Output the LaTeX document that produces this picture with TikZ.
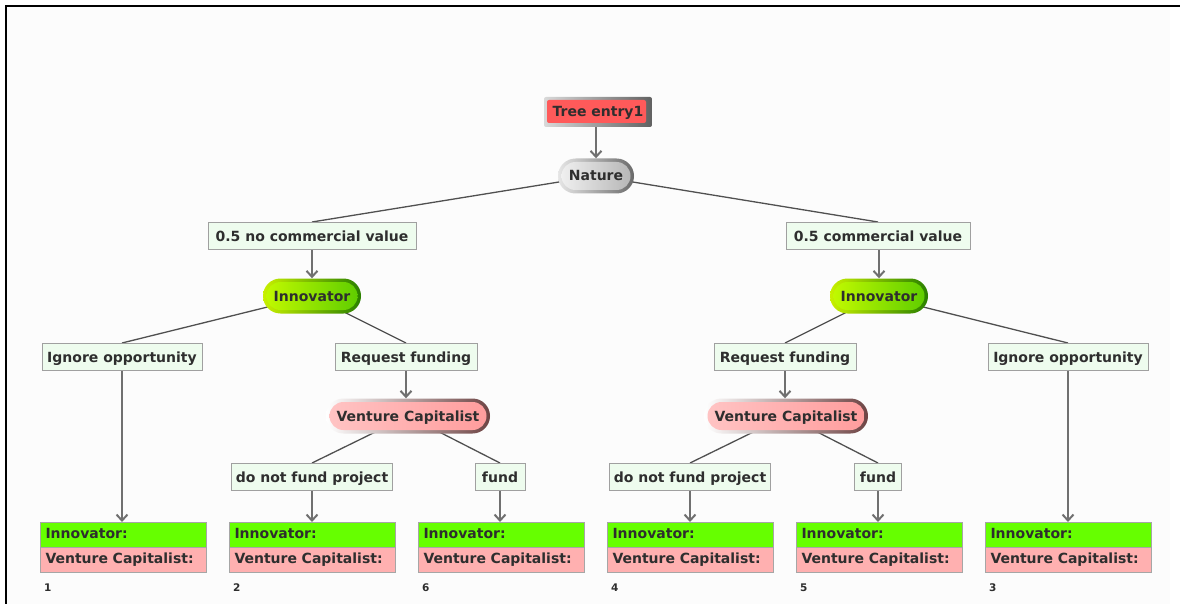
\documentclass[tikz,border=0pt]{standalone}
\usepackage{fontspec}
\setmainfont{DejaVu Sans}
\usetikzlibrary{arrows.meta,shapes.misc,shapes.multipart,calc}
\pgfdeclarelayer{bottom}
\pgfdeclarelayer{background}
\pgfsetlayers{bottom,background,main}
\definecolor{txt}{HTML}{2E2E2E}
\definecolor{lblfill}{HTML}{EEFCEE}
\definecolor{lblborder}{HTML}{A0A0A0}
\definecolor{paygreen}{HTML}{66FF00}
\definecolor{paypink}{HTML}{FFB0B0}
\definecolor{arrgray}{HTML}{707070}
\definecolor{linegray}{HTML}{505050}
\definecolor{bgcol}{HTML}{FCFCFC}
\definecolor{entryred}{HTML}{FF5A5A}
\definecolor{grnA}{HTML}{C8F000}
\definecolor{grnB}{HTML}{2A8000}
\definecolor{grnC}{HTML}{C4FA00}
\definecolor{grnD}{HTML}{5CCC00}
\definecolor{vcA}{HTML}{FFFFFF}
\definecolor{vcB}{HTML}{6E4444}
\definecolor{vcC}{HTML}{FFC4C4}
\definecolor{vcD}{HTML}{FF9C9C}
\definecolor{gyA}{HTML}{E6E6E6}
\definecolor{gyB}{HTML}{6A6A6A}
\definecolor{gyC}{HTML}{F2F2F2}
\definecolor{gyD}{HTML}{B4B4B4}
\newcommand\lblfont{\fontsize{14}{16}\selectfont\bfseries}
\newcommand\numfont{\fontsize{10.5}{11}\selectfont\bfseries}
\begin{document}
\begin{tikzpicture}[x=1pt,y=-1pt,
  every node/.style={text=txt,font=\lblfont},
  lbl/.style={rectangle,draw=lblborder,fill=lblfill,line width=1pt,minimum height=27pt,inner sep=0pt,text height=12pt,text depth=2pt},
  pill/.style n args={4}{rounded rectangle,minimum height=35pt,inner sep=0pt,text height=12pt,text depth=2pt,left color=#1,right color=#2,
     path picture={\shade[left color=#3,right color=#4,rounded corners=14pt]
       ($(path picture bounding box.north west)+(3.5pt,-3.5pt)$) rectangle ($(path picture bounding box.south east)+(-3.5pt,3.5pt)$);}},
  entry/.style={rectangle,rounded corners=2pt,minimum width=108pt,minimum height=30pt,inner sep=0pt,text height=12pt,text depth=2pt,
     left color=black!15,right color=black!62,
     path picture={\fill[entryred] ($(path picture bounding box.north west)+(3pt,-3pt)$) rectangle ($(path picture bounding box.south east)+(-6pt,4pt)$);}},
  pay/.style={rectangle split,rectangle split parts=2,draw=black!35,line width=1pt,
     rectangle split part fill={paygreen,paypink},text width=156pt,align=left,inner xsep=5pt,inner ysep=4pt},
  num/.style={font=\numfont,anchor=west,inner sep=0pt},
  arr/.style={draw=arrgray,line width=2pt,-{Straight Barb[length=6pt,width=11pt,line width=2pt]}},
  conn/.style={draw=linegray,line width=1.3pt}]
\useasboundingbox (0,0) rectangle (1180,604);
\begin{pgfonlayer}{bottom}
\fill[bgcol] (7,7) rectangle (1170,604);
\draw[line width=2pt] (6,604) -- (6,6) -- (1180,6);
\end{pgfonlayer}

% nodes
\node[entry] (te) at (598,112) {Tree entry1};
\node[pill={gyA}{gyB}{gyC}{gyD},minimum width=76pt] (nat) at (596,176) {Nature};

\node[lbl,minimum width=208pt] (l1) at (312,236) {0.5 no commercial value};
\node[lbl,minimum width=184pt] (r1) at (878,236) {0.5 commercial value};

\node[pill={grnA}{grnB}{grnC}{grnD},minimum width=98pt] (i1) at (312,296) {Innovator};
\node[pill={grnA}{grnB}{grnC}{grnD},minimum width=98pt] (i2) at (879,296) {Innovator};

\node[lbl,minimum width=160pt] (io1) at (122,357) {Ignore opportunity};
\node[lbl,minimum width=142pt] (rf1) at (406,357) {Request funding};
\node[lbl,minimum width=142pt] (rf2) at (785,357) {Request funding};
\node[lbl,minimum width=160pt] (io2) at (1068,357) {Ignore opportunity};

\node[pill={vcA}{vcB}{vcC}{vcD},minimum width=164pt] (vc1) at (408,416) {Venture Capitalist};
\node[pill={vcA}{vcB}{vcC}{vcD},minimum width=164pt] (vc2) at (786,416) {Venture Capitalist};

\node[lbl,minimum width=161pt] (dn1) at (312,477) {do not fund project};
\node[lbl,minimum width=50pt] (f1) at (500,477) {fund};
\node[lbl,minimum width=161pt] (dn2) at (690,477) {do not fund project};
\node[lbl,minimum width=47pt] (f2) at (878,477) {fund};

\node[pay] (p1) at (123.5,547.5) {\strut Innovator:\nodepart{two}\strut Venture Capitalist:};
\node[pay] (p2) at (312.5,547.5) {\strut Innovator:\nodepart{two}\strut Venture Capitalist:};
\node[pay] (p6) at (501.5,547.5) {\strut Innovator:\nodepart{two}\strut Venture Capitalist:};
\node[pay] (p4) at (690.5,547.5) {\strut Innovator:\nodepart{two}\strut Venture Capitalist:};
\node[pay] (p5) at (879.5,547.5) {\strut Innovator:\nodepart{two}\strut Venture Capitalist:};
\node[pay] (p3) at (1068.5,547.5) {\strut Innovator:\nodepart{two}\strut Venture Capitalist:};

\node[num] (n1) at (44,588) {1};
\node[num] (n2) at (233,588) {2};
\node[num] (n6) at (422,588) {6};
\node[num] (n4) at (611,588) {4};
\node[num] (n5) at (800,588) {5};
\node[num] (n3) at (989,588) {3};

% connectors
\begin{pgfonlayer}{background}
\draw[conn] (nat.center) -- (l1.north);
\draw[conn] (nat.center) -- (r1.north);
\draw[conn] (i1.center) -- (io1.north);
\draw[conn] (i1.center) -- (rf1.north);
\draw[conn] (i2.center) -- (rf2.north);
\draw[conn] (i2.center) -- (io2.north);
\draw[conn] (vc1.center) -- (dn1.north);
\draw[conn] (vc1.center) -- (f1.north);
\draw[conn] (vc2.center) -- (dn2.north);
\draw[conn] (vc2.center) -- (f2.north);
\end{pgfonlayer}

\draw[arr] (te.south -| nat.north) -- (nat.north);
\draw[arr] (l1.south) -- (i1.north -| l1.south);
\draw[arr] (r1.south -| i2.north) -- (i2.north);
\draw[arr] (io1.south) -- (p1.north -| io1.south);
\draw[arr] (rf1.south) -- (vc1.north -| rf1.south);
\draw[arr] (rf2.south) -- (vc2.north -| rf2.south);
\draw[arr] (io2.south) -- (p3.north -| io2.south);
\draw[arr] (dn1.south) -- (p2.north -| dn1.south);
\draw[arr] (f1.south) -- (p6.north -| f1.south);
\draw[arr] (dn2.south) -- (p4.north -| dn2.south);
\draw[arr] (f2.south) -- (p5.north -| f2.south);
\end{tikzpicture}
\end{document}
